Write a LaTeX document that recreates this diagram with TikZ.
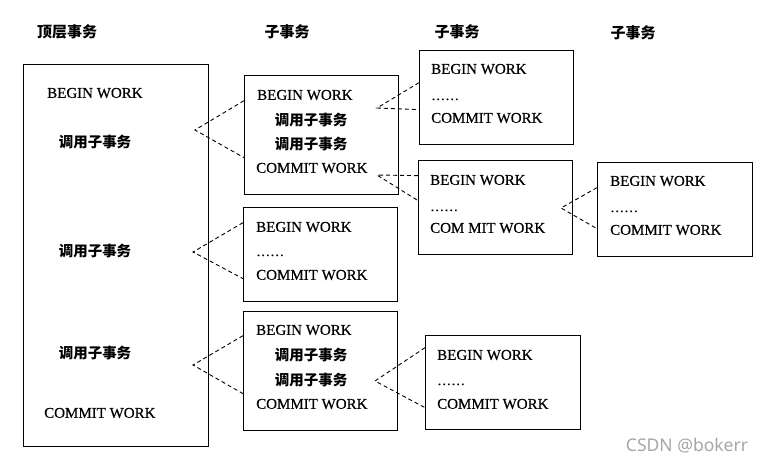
\documentclass[tikz,border=0pt]{standalone}
\usepackage{fontspec}
\setmainfont{Liberation Serif}[FakeBold=0.5]
\newfontfamily\cjk{Noto Sans CJK SC}
\newfontfamily\wmfont{Noto Sans}
\usetikzlibrary{positioning}
\tikzstyle{txbox}=[draw, line width=1.3pt, inner sep=0pt, anchor=north west]
\tikzstyle{wk}=[anchor=west, inner sep=0pt, font=\fontsize{15}{17}\selectfont]
\tikzstyle{dots}=[anchor=base west, inner sep=0pt, font=\fontsize{14}{16}\selectfont]
\tikzstyle{call}=[inner sep=0pt, font=\cjk\bfseries\fontsize{14.5}{17}\selectfont]
\tikzstyle{head}=[inner sep=0pt, font=\cjk\bfseries\fontsize{15}{17}\selectfont]
\tikzstyle{link}=[line width=0.9pt, dash pattern=on 4pt off 3pt]

\begin{document}
\begin{tikzpicture}[x=1pt,y=-1pt]
  \useasboundingbox (0,0) rectangle (769,464);

  % headings
  \node [head] (htop) at (67,32) {顶层事务};
  \node [head] (hsub1) at (287,32) {子事务};
  \node [head] (hsub2) at (457,32) {子事务};
  \node [head] (hsub3) at (633,33) {子事务};

  % boxes
  \node [txbox,minimum width=185pt,minimum height=382pt] (top) at (23,64) {};
  \node [txbox,minimum width=154pt,minimum height=119pt] (subA) at (244,75) {};
  \node [txbox,minimum width=154pt,minimum height=94pt] (subB) at (243,207) {};
  \node [txbox,minimum width=154pt,minimum height=119pt] (subC) at (243,311) {};
  \node [txbox,minimum width=154pt,minimum height=94pt] (subD) at (419,50) {};
  \node [txbox,minimum width=154pt,minimum height=94pt] (subE) at (418,160) {};
  \node [txbox,minimum width=155pt,minimum height=94pt] (subF) at (597,162) {};
  \node [txbox,minimum width=155pt,minimum height=94pt] (subG) at (425,335) {};

  % top level transaction
  \node [wk] (topbegin) at (47,93) {BEGIN WORK};
  \node [call] (topcall1) at (95,142) {调用子事务};
  \node [call] (topcall2) at (95,251) {调用子事务};
  \node [call] (topcall3) at (95,353) {调用子事务};
  \node [wk] (topcommit) at (44,413) {COMMIT WORK};

  % second column
  \node [wk] (abegin) at (257,95) {BEGIN WORK};
  \node [call] (acall1) at (311,120) {调用子事务};
  \node [call] (acall2) at (311,144) {调用子事务};
  \node [wk] (acommit) at (256,168) {COMMIT WORK};

  \node [wk] (bbegin) at (256,227) {BEGIN WORK};
  \node [dots] (bdots) at (256,256) {……};
  \node [wk] (bcommit) at (256,275) {COMMIT WORK};

  \node [wk] (cbegin) at (256,330) {BEGIN WORK};
  \node [call] (ccall1) at (311,355) {调用子事务};
  \node [call] (ccall2) at (311,380) {调用子事务};
  \node [wk] (ccommit) at (256,404) {COMMIT WORK};

  % third column
  \node [wk] (dbegin) at (431,69) {BEGIN WORK};
  \node [dots] (ddots) at (431,100) {……};
  \node [wk] (dcommit) at (431,118) {COMMIT WORK};

  \node [wk] (ebegin) at (430,180) {BEGIN WORK};
  \node [dots] (edots) at (430,211) {……};
  \node [wk] (ecommit) at (430,228) {COM MIT WORK};

  \node [wk] (gbegin) at (437,355) {BEGIN WORK};
  \node [dots] (gdots) at (437,385) {……};
  \node [wk] (gcommit) at (437,404) {COMMIT WORK};

  % fourth column
  \node [wk] (fbegin) at (610,181) {BEGIN WORK};
  \node [dots] (fdots) at (610,212) {……};
  \node [wk] (fcommit) at (610,230) {COMMIT WORK};

  % call points
  \coordinate (p1) at (195,130);
  \coordinate (p2) at (193,252);
  \coordinate (p3) at (193,365);
  \coordinate (p4) at (377,108);
  \coordinate (p5) at (377,175);
  \coordinate (p6) at (561,208);
  \coordinate (p7) at (375,381);

  % dashed call links
  \draw [link] ([yshift=34.5pt]subA.west) -- (p1) -- ([yshift=-22.5pt]subA.west);
  \draw [link] ([yshift=32pt]subB.west) -- (p2) -- ([yshift=-24pt]subB.west);
  \draw [link] ([yshift=35.5pt]subC.west) -- (p3) -- ([yshift=-22.5pt]subC.west);
  \draw [link] ([yshift=15pt]subD.west) -- (p4) -- ([yshift=-12pt]subD.west);
  \draw [link] ([yshift=32pt]subE.west) -- (p5) -- ([yshift=7pt]subE.west);
  \draw [link] ([yshift=22pt]subF.west) -- (p6) -- ([yshift=-19pt]subF.west);
  \draw [link] ([yshift=35pt]subG.west) -- (p7) -- ([yshift=-25pt]subG.west);

  % watermark
  \node [gray!70,inner sep=0pt,font=\wmfont\fontsize{17.5}{19}\selectfont] (mark) at (687,446) {CSDN @bokerr};
\end{tikzpicture}
\end{document}
